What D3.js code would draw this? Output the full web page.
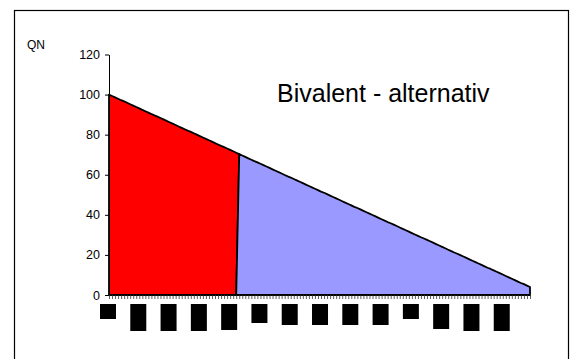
<!DOCTYPE html>
<html>
<head>
<meta charset="utf-8">
<script src="https://cdn.jsdelivr.net/npm/d3@7"></script>
<style>
  html, body { margin: 0; padding: 0; background: #fff; }
  svg { display: block; font-family: Arial, "Liberation Sans", sans-serif; }
</style>
</head>
<body>
<svg id="chart" width="570" height="359"></svg>
<script>
// Heat demand duration curve QN (% of design load), one value per category
const qn = [
  100, 99.3, 98.6, 97.9, 97.2, 96.6, 95.9, 95.2, 94.5, 93.8,
  93.1, 92.4, 91.7, 91.0, 90.3, 89.6, 89.0, 88.3, 87.6, 86.9,
  86.2, 85.5, 84.8, 84.1, 83.4, 82.7, 82.0, 81.4, 80.7, 80.0,
  79.3, 78.6, 77.9, 77.2, 76.5, 75.8, 75.1, 74.4, 73.8, 73.1,
  72.4, 71.7, 71.0, 70.3, 69.6, 68.9, 68.2, 67.5, 66.8, 66.2,
  65.5, 64.8, 64.1, 63.4, 62.7, 62.0, 61.3, 60.6, 59.9, 59.2,
  58.6, 57.9, 57.2, 56.5, 55.8, 55.1, 54.4, 53.7, 53.0, 52.3,
  51.6, 51.0, 50.3, 49.6, 48.9, 48.2, 47.5, 46.8, 46.1, 45.4,
  44.7, 44.0, 43.4, 42.7, 42.0, 41.3, 40.6, 39.9, 39.2, 38.5,
  37.8, 37.1, 36.4, 35.8, 35.1, 34.4, 33.7, 33.0, 32.3, 31.6,
  30.9, 30.2, 29.5, 28.8, 28.2, 27.5, 26.8, 26.1, 25.4, 24.7,
  24.0, 23.3, 22.6, 21.9, 21.2, 20.6, 19.9, 19.2, 18.5, 17.8,
  17.1, 16.4, 15.7, 15.0, 14.3, 13.6, 13.0, 12.3, 11.6, 10.9,
  10.2, 9.5, 8.8, 8.1, 7.4, 6.7, 6.0, 5.4, 4.7, 4.0
];
// the alternative generator takes over from this category on
const bivalentIndex = 43;
const yTicks = [0, 20, 40, 60, 80, 100, 120];
// category-axis labels (every 10th category), shown as filled label boxes
const labelEvery = 10;
const labelBoxLen = [15, 27, 27, 27, 26, 19, 21, 21, 21, 21, 15, 25, 27, 27];

const categories = d3.range(qn.length);
const last = qn.length - 1;

const svg = d3.select("#chart");

// outer frame
svg.append("rect")
  .attr("x", 14.5).attr("y", 10.5)
  .attr("width", 554).attr("height", 360)
  .attr("fill", "none").attr("stroke", "#000").attr("stroke-width", 1.2);

const x = d3.scalePoint().domain(categories).range([109, 530]);
const y = d3.scaleLinear().domain([0, 120]).range([295, 54.5]);

// polygon outline from [category, value] pairs
const poly = d3.line().x(p => x(p[0])).y(p => y(p[1]));

// first section: full load up to the bivalence point
const peakPts = [[0, 0]]
  .concat(categories.filter(i => i <= bivalentIndex).map(i => [i, qn[i]]))
  .concat([[bivalentIndex - 1, 0]]);
// second section: from the bivalence point to the end of the curve
const basePts = [[bivalentIndex - 1, 0]]
  .concat(categories.filter(i => i >= bivalentIndex).map(i => [i, qn[i]]))
  .concat([[last, 0]]);

function drawSection(pts, fill) {
  svg.append("path")
    .datum(pts)
    .attr("d", d => poly(d) + "Z")
    .attr("fill", fill)
    .attr("stroke", "#000")
    .attr("stroke-width", 1.8)
    .attr("stroke-linejoin", "round");
}
drawSection(peakPts, "#ff0000");
drawSection(basePts, "#9999ff");

// y axis
const yAxis = d3.axisLeft(y).tickValues(yTicks).tickSize(4).tickSizeOuter(0).tickPadding(5);
const gy = svg.append("g").attr("transform", "translate(109,0)").call(yAxis);
gy.select(".domain").attr("stroke", "#000");
gy.selectAll(".tick line").attr("stroke", "#000");
gy.selectAll(".tick text")
  .attr("font-size", 12.5)
  .attr("font-family", "Arial, 'Liberation Sans', sans-serif")
  .attr("fill", "#000");

// x axis (category ticks)
const xAxis = d3.axisBottom(x).tickSize(4).tickSizeOuter(0).tickFormat("");
const gx = svg.append("g").attr("transform", "translate(0,295)").call(xAxis);
gx.select(".domain").attr("stroke", "#000");
gx.selectAll(".tick line").attr("stroke", "#333").attr("stroke-width", 0.8);

// label boxes under every 10th category
const labelIdx = categories.filter(i => i % labelEvery === 0);
svg.append("g").selectAll("rect")
  .data(labelIdx)
  .join("rect")
  .attr("x", i => x(i) - 9)
  .attr("y", 304)
  .attr("width", 16)
  .attr("height", (i, k) => labelBoxLen[k])
  .attr("fill", "#000");

// axis unit
svg.append("text")
  .attr("x", 27).attr("y", 48.5)
  .attr("font-size", 12)
  .attr("fill", "#000")
  .text("QN");

// title
svg.append("text")
  .attr("x", 277).attr("y", 101.5)
  .attr("font-size", 25)
  .attr("fill", "#000")
  .text("Bivalent - alternativ");
</script>
</body>
</html>
